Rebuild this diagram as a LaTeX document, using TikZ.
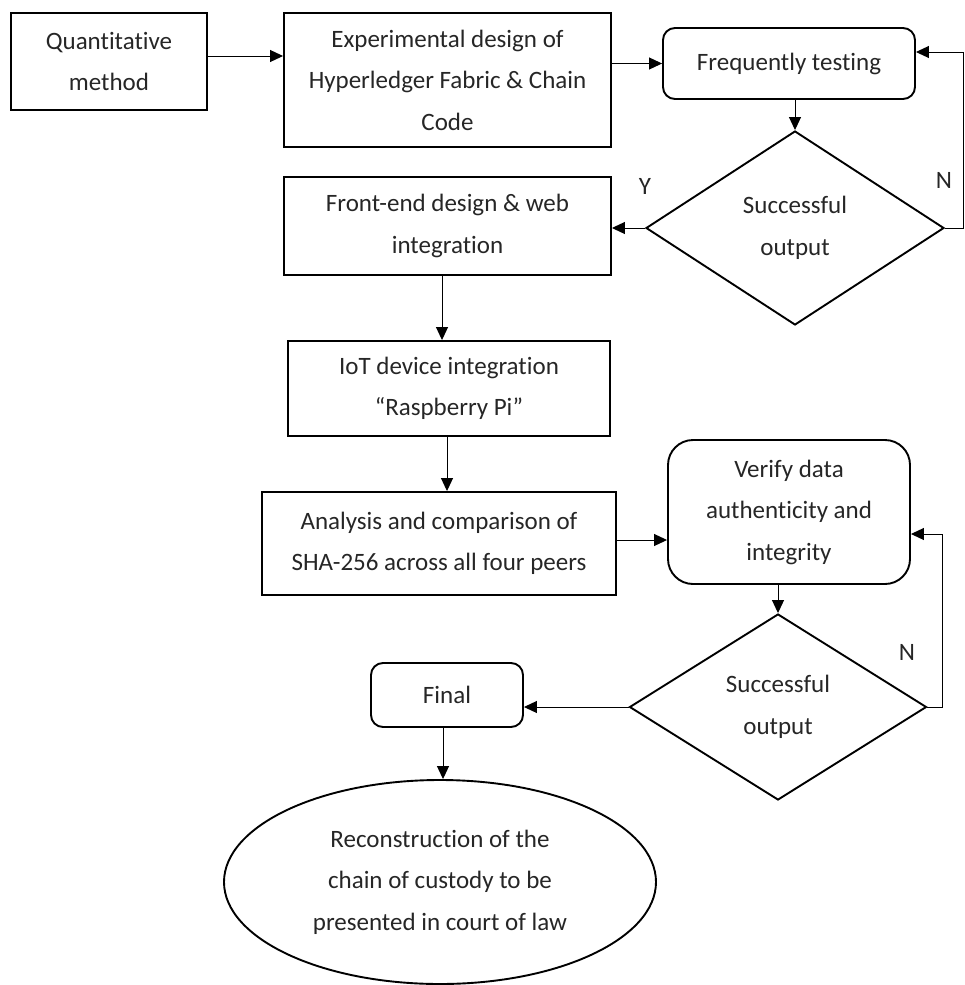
\documentclass[tikz,border=0pt]{standalone}
\usepackage{fontspec}
\setmainfont{Carlito}[Ligatures={NoCommon}]
\usetikzlibrary{arrows.meta,shapes.geometric}
\begin{document}
\begin{tikzpicture}[x=1pt,y=-1pt,
  every node/.style={font=\fontsize{25}{41.5}\selectfont, align=center, text=black!85},
  box/.style={draw, line width=1.9pt, inner sep=0pt},
  rbox/.style={box, rounded corners=#1},
  dec/.style={draw, diamond, line width=1.9pt, inner sep=0pt},
  oval/.style={draw, ellipse, line width=1.9pt, inner sep=0pt},
  arr/.style={line width=1pt, -{Triangle[length=13pt,width=12pt]}},
  lbl/.style={inner sep=0pt}
]
\useasboundingbox (0,0) rectangle (964,985);

\node[box, minimum width=196pt, minimum height=97pt] (Q) at (109,61.5) {Quantitative\\method};
\node[box, minimum width=327pt, minimum height=134pt] (Exp) at (447.5,80) {Experimental design of\\Hyperledger Fabric \& Chain\\Code};
\node[rbox=12pt, minimum width=252pt, minimum height=71pt] (FT) at (789,63.5) {Frequently testing};
\node[dec, minimum width=298pt, minimum height=194pt, aspect=1.536] (D1) at (795,228) {Successful\\output};
\node[box, minimum width=327pt, minimum height=98pt] (FE) at (447.5,226) {Front-end design \& web\\integration};
\node[box, minimum width=322pt, minimum height=95pt] (IoT) at (449,388.5) {IoT device integration\\“Raspberry Pi”};
\node[box, minimum width=354pt, minimum height=103pt] (AN) at (439,543.5) {Analysis and comparison of\\SHA-256 across all four peers};
\node[rbox=25pt, minimum width=242pt, minimum height=144pt] (V) at (789,512) {Verify data\\authenticity and\\integrity};
\node[dec, minimum width=297pt, minimum height=186pt, aspect=1.597] (D2) at (778,707) {Successful\\output};
\node[rbox=12pt, minimum width=152pt, minimum height=64pt] (F) at (447,695) {Final};
\node[oval, minimum width=432pt, minimum height=204pt] (E) at (440,882) {Reconstruction of the\\chain of custody to be\\presented in court of law};

\node[lbl] (Y1) at (645,186) {Y};
\node[lbl] (N1) at (944,180) {N};
\node[lbl] (N2) at (907,652) {N};

\coordinate (c1) at (963,52);
\coordinate (c2) at (942,534);

\draw[arr] ([yshift=5.5pt]Q.east) -- ([yshift=5.5pt]Q.east -| Exp.west);
\draw[arr] (FT.west -| Exp.east) -- (FT.west);
\draw[arr] (FT.south -| D1.north) -- (D1.north);
\draw[arr] (D1.west) -- (D1.west -| FE.east);
\draw[arr] (D1.east) -- (D1.east -| c1) -- (c1) -- (c1 -| FT.east);
\draw[arr] ([xshift=-5.5pt]FE.south) -- ([xshift=-5.5pt]FE.south |- IoT.north);
\draw[arr] ([xshift=-2pt]IoT.south) -- ([xshift=-2pt]IoT.south |- AN.north);
\draw[arr] ([yshift=3.5pt]AN.east) -- ([yshift=3.5pt]AN.east -| V.west);
\draw[arr] (V.south -| D2.north) -- (D2.north);
\draw[arr] (D2.east) -- (D2.east -| c2) -- (c2) -- (c2 -| V.east);
\draw[arr] (D2.west) -- (D2.west -| F.east);
\draw[arr] ([xshift=-4pt]F.south) -- ([xshift=-4pt]F.south |- E.north);
\end{tikzpicture}
\end{document}
